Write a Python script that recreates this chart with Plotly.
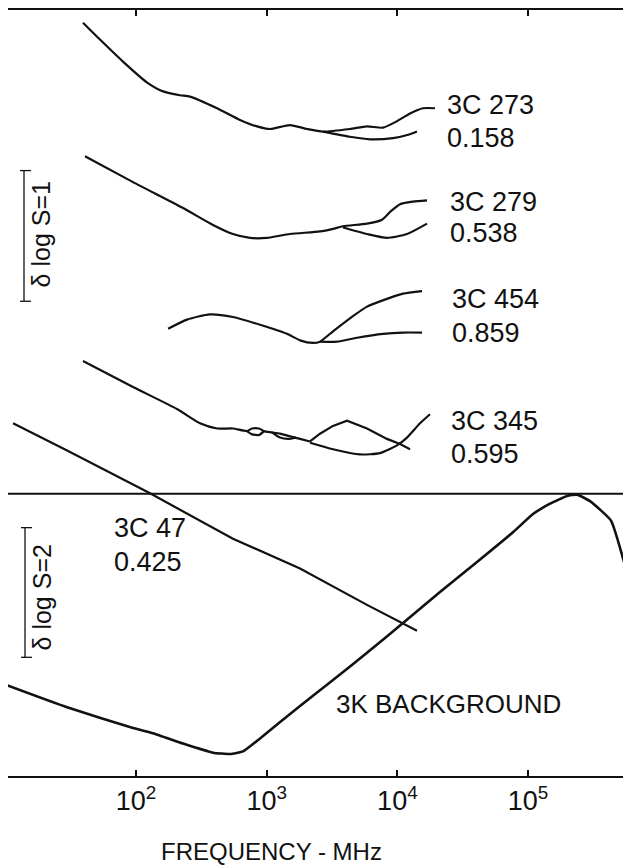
import plotly.graph_objects as go

# ---------------- data (frequency in MHz, relative log S in upper-panel units) -------------
c273_f = [39.3, 53.0, 79.5, 121, 161, 217, 259, 417, 625, 843, 1060, 1508, 2034, 2697,
          4338, 5853, 7759, 9929, 12490, 15700, 19400]
c273_s = [5.81, 5.68, 5.51, 5.35, 5.28, 5.25, 5.24, 5.15, 5.06, 5.01, 4.99, 5.02, 4.99, 4.97,
          4.99, 5.01, 5.00, 5.05, 5.11, 5.15, 5.15]
c273_lo_f = [2697, 4338, 6170, 9255, 12490, 14125]
c273_lo_s = [4.97, 4.93, 4.91, 4.92, 4.95, 4.97]

c279_f = [40.7, 94.9, 229, 388, 552, 745, 1005, 1508, 2557, 3216, 3836,
          5853, 7625, 8777, 10470, 13160, 16850]
c279_s = [4.78, 4.58, 4.38, 4.25, 4.18, 4.15, 4.15, 4.18, 4.20, 4.22, 4.24,
          4.26, 4.29, 4.35, 4.41, 4.43, 4.44]
c279_lo_f = [3836, 5853, 8325, 11840, 16850]
c279_lo_s = [4.23, 4.18, 4.15, 4.18, 4.26]

c454_f = [176, 246, 368, 552, 889, 1430, 1798, 2261, 2557,
          3216, 4338, 5853, 8325, 11040, 15430]
c454_s = [3.45, 3.52, 3.56, 3.54, 3.48, 3.41, 3.36, 3.34, 3.35,
          3.43, 3.53, 3.62, 3.68, 3.72, 3.74]
c454_lo_f = [2557, 3450, 4909, 7759, 11040, 15430]
c454_lo_s = [3.35, 3.35, 3.38, 3.41, 3.42, 3.42]

c345_f = [39.3, 94.9, 206, 309, 417, 552, 707, 772, 873, 953, 1098, 1264, 1508, 1798, 2145]
c345_s = [3.20, 3.00, 2.83, 2.72, 2.68, 2.68, 2.66, 2.68, 2.68, 2.66, 2.65, 2.64, 2.62, 2.60, 2.58]
c345_loopa_f = [707, 772, 873, 953]
c345_loopa_s = [2.66, 2.635, 2.63, 2.66]
c345_loopb_f = [1098, 1264, 1455, 1676]
c345_loopb_s = [2.65, 2.61, 2.60, 2.61]
c345_hi_f = [2145, 2557, 3216, 4115, 5853, 8325, 10470, 12490]
c345_hi_s = [2.58, 2.64, 2.70, 2.74, 2.68, 2.60, 2.56, 2.52]
c345_lo_f = [2145, 3216, 5173, 7360, 9929, 11840, 14890, 17760]
c345_lo_s = [2.57, 2.52, 2.48, 2.49, 2.55, 2.61, 2.72, 2.79]

c47_f = [11.46, 29.7, 128, 552, 1798, 5853, 14125]
c47_s = [2.72, 2.51, 2.18, 1.83, 1.60, 1.32, 1.12]

bg_f = [10.3, 29.7, 94.9, 134.9, 229, 388, 524, 659, 889, 1798, 3216, 5853, 11040,
        21180, 40640, 76650, 109000, 147100, 198400, 236700, 297600, 430900, 602000]
bg_s = [0.70, 0.53, 0.37, 0.33, 0.25, 0.18, 0.17, 0.19, 0.29, 0.54, 0.74, 0.95, 1.18,
        1.42, 1.65, 1.88, 2.02, 2.10, 2.16, 2.17, 2.12, 1.97, 1.48]

tick_vals = [1e2, 1e3, 1e4, 1e5]
tick_text = ["10<sup>2</sup>", "10<sup>3</sup>", "10<sup>4</sup>", "10<sup>5</sup>"]

source_names = ["3C 273", "3C 279", "3C 454", "3C 345", "3C 47"]
redshifts = ["0.158", "0.538", "0.859", "0.595", "0.425"]
bg_label = "3K BACKGROUND"
x_title = "FREQUENCY - MHz"
bar_labels = ["δ log S=1", "δ log S=2"]

# ---------------- layout geometry -------------
# The page body adds an 8 px offset, so the figure is sized to fill the rest of the window.
OFF = 8
W, H = 631 - OFF, 865 - OFF
ML, MT, MR = 0, 0, 0
PLOT_BOTTOM = 776            # page pixel of the bottom axis
PH = PLOT_BOTTOM - OFF
MB = H - PH
PW = W - ML - MR
INK = "#111111"
FONT = "Liberation Sans, Arial, Helvetica, sans-serif"


def px(x):
    return (x - OFF - ML) / PW


def py(y):
    return (PLOT_BOTTOM - y) / PH


fig = go.Figure()


def add(f, s, shape="spline", width=2.2, smoothing=0.6):
    fig.add_trace(go.Scatter(x=f, y=s, mode="lines",
                             line=dict(color=INK, width=width, shape=shape, smoothing=smoothing),
                             hoverinfo="skip", showlegend=False))


add(c273_f, c273_s)
add(c273_lo_f, c273_lo_s)
add(c279_f, c279_s)
add(c279_lo_f, c279_lo_s)
add(c454_f, c454_s)
add(c454_lo_f, c454_lo_s)
add(c345_f, c345_s)
add(c345_loopa_f, c345_loopa_s)
add(c345_loopb_f, c345_loopb_s)
add(c345_hi_f, c345_hi_s, shape="linear")
add(c345_lo_f, c345_lo_s)
add(c47_f, c47_s, shape="linear")
add(bg_f, bg_s, shape="spline", width=2.6, smoothing=0.4)

shapes = []
# divider between the two panels
shapes.append(dict(type="line", xref="paper", yref="paper", x0=0, x1=1,
                   y0=py(493), y1=py(493), line=dict(color=INK, width=2)))
# scale bars
for (xb, y0, y1) in [(24, 169, 300), (25, 527, 657)]:
    shapes.append(dict(type="line", xref="paper", yref="paper", x0=px(xb), x1=px(xb),
                       y0=py(y0), y1=py(y1), line=dict(color=INK, width=1.3)))
    for yy in (y0, y1):
        shapes.append(dict(type="line", xref="paper", yref="paper", x0=px(xb - 4), x1=px(xb + 7),
                           y0=py(yy), y1=py(yy), line=dict(color=INK, width=1.3)))

annotations = []
lab_pos = [(448, 103, 136), (451, 200, 232), (453, 298, 332), (452, 420, 453), (115, 527, 561)]
for name, z, (lx, y1, y2) in zip(source_names, redshifts, lab_pos):
    for txt, yy in ((name, y1), (z, y2)):
        annotations.append(dict(text=txt, xref="paper", yref="paper", x=px(lx - 3), y=py(yy),
                                xanchor="left", yanchor="middle", showarrow=False,
                                font=dict(size=27, color=INK, family=FONT)))
annotations.append(dict(text=bg_label, xref="paper", yref="paper", x=px(334), y=py(704),
                        xanchor="left", yanchor="middle", showarrow=False,
                        font=dict(size=26, color=INK, family=FONT)))
for txt, (xx, yy) in zip(bar_labels, [(41, 233), (42, 597)]):
    annotations.append(dict(text=txt, xref="paper", yref="paper", x=px(xx), y=py(yy),
                            xanchor="center", yanchor="middle", textangle=-90, showarrow=False,
                            font=dict(size=25, color=INK, family=FONT)))
annotations.append(dict(text=x_title, xref="paper", yref="paper", x=px(271), y=py(852),
                        xanchor="center", yanchor="middle", showarrow=False,
                        font=dict(size=24, color=INK, family=FONT)))

fig.update_layout(
    width=W, height=H, autosize=False,
    margin=dict(l=ML, r=MR, t=MT, b=MB, pad=0),
    paper_bgcolor="white", plot_bgcolor="white",
    shapes=shapes, annotations=annotations,
    xaxis=dict(type="log", range=[2 - (136 - OFF) / 130.7, 2 + (631 - 136) / 130.7],
               showline=True, linewidth=2, linecolor=INK,
               mirror="ticks", ticks="inside", ticklen=6, tickwidth=1.5, tickcolor=INK,
               tickvals=tick_vals, ticktext=tick_text, showgrid=False, zeroline=False,
               tickfont=dict(size=27, color=INK, family=FONT)),
    yaxis=dict(range=[0, PH / 130], showline=True, linewidth=2, linecolor=INK, mirror=False,
               showticklabels=False, ticks="", showgrid=False, zeroline=False),
    font=dict(family=FONT, color=INK),
)

fig.write_html("out.html")
